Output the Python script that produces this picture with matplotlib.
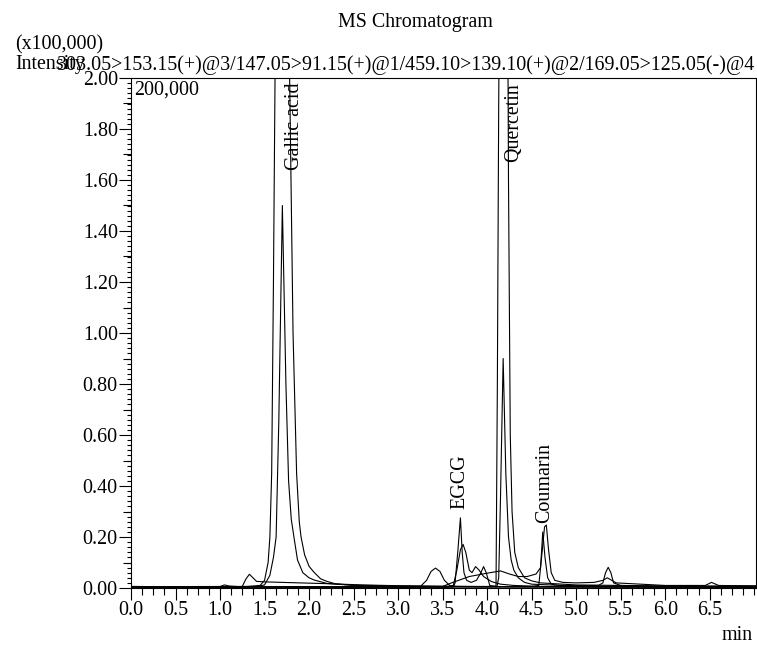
import matplotlib
matplotlib.use("Agg")
import matplotlib.pyplot as plt
from matplotlib.ticker import MultipleLocator, FormatStrFormatter

plt.rcParams["font.family"] = ["Liberation Serif", "DejaVu Serif"]
plt.rcParams["font.size"] = 14.4

# MRM traces (retention time in min, intensity in x100,000)
gallic_main_t = [0.00, 0.50, 1.00, 1.30, 1.45, 1.50, 1.54, 1.56, 1.58, 1.60, 1.62, 1.66, 1.70, 1.74,
                 1.78, 1.82, 1.86, 1.89, 1.91, 1.95, 2.00, 2.06, 2.13, 2.20, 2.30, 2.50, 3.00, 3.50,
                 4.00, 5.00, 6.00, 7.02]
gallic_main_i = [0.006, 0.005, 0.005, 0.006, 0.010, 0.030, 0.100, 0.200, 0.450, 1.200, 2.100, 3.300,
                 3.600, 3.300, 2.050, 1.000, 0.450, 0.260, 0.200, 0.130, 0.085, 0.060, 0.036, 0.026,
                 0.016, 0.011, 0.008, 0.006, 0.005, 0.005, 0.004, 0.004]

gallic_sub_t = [0.00, 1.00, 1.40, 1.50, 1.56, 1.60, 1.63, 1.66, 1.70, 1.74, 1.77, 1.80, 1.83, 1.87,
                1.93, 2.00, 2.06, 2.20, 2.50, 3.00, 5.00, 7.02]
gallic_sub_i = [0.003, 0.003, 0.005, 0.012, 0.050, 0.120, 0.200, 0.650, 1.500, 0.800, 0.420, 0.270,
                0.200, 0.110, 0.060, 0.040, 0.031, 0.018, 0.010, 0.006, 0.004, 0.004]

querc_main_t = [0.00, 0.50, 1.00, 1.20, 1.25, 1.29, 1.33, 1.37, 1.41, 1.50, 1.80, 2.20, 2.60, 3.00,
                3.50, 4.00, 4.10, 4.115, 4.13, 4.16, 4.19, 4.22, 4.24, 4.26, 4.28, 4.31, 4.35, 4.42,
                4.50, 4.60, 5.00, 6.00, 7.02]
querc_main_i = [0.005, 0.005, 0.004, 0.004, 0.006, 0.035, 0.054, 0.040, 0.026, 0.024, 0.021, 0.017,
                0.012, 0.009, 0.007, 0.006, 0.008, 0.800, 1.900, 3.500, 4.000, 3.200, 1.600, 0.600,
                0.300, 0.140, 0.080, 0.040, 0.028, 0.020, 0.012, 0.008, 0.008]

querc_sub_t = [0.00, 1.00, 2.00, 3.00, 4.00, 4.11, 4.13, 4.15, 4.18, 4.21, 4.24, 4.27, 4.30, 4.35,
               4.42, 4.50, 5.00, 6.00, 7.02]
querc_sub_i = [0.004, 0.004, 0.004, 0.004, 0.004, 0.005, 0.040, 0.350, 0.900, 0.450, 0.200, 0.110,
               0.070, 0.040, 0.022, 0.015, 0.008, 0.005, 0.004]

egcg_main_t = [0.00, 1.00, 2.00, 3.00, 3.50, 3.62, 3.64, 3.67, 3.70, 3.72, 3.74, 3.77, 3.82, 3.88,
               3.93, 3.96, 3.99, 4.03, 4.10, 4.50, 5.00, 6.00, 7.02]
egcg_main_i = [0.004, 0.004, 0.003, 0.003, 0.003, 0.004, 0.020, 0.140, 0.275, 0.140, 0.060, 0.030,
               0.022, 0.030, 0.060, 0.084, 0.060, 0.010, 0.005, 0.004, 0.004, 0.004, 0.004]

egcg_sub_t = [0.00, 1.00, 2.00, 3.00, 3.55, 3.62, 3.66, 3.70, 3.73, 3.76, 3.80, 3.83, 3.87, 3.91,
              3.96, 4.05, 4.15, 4.30, 4.60, 5.00, 6.00, 7.02]
egcg_sub_i = [0.005, 0.005, 0.004, 0.004, 0.004, 0.010, 0.070, 0.150, 0.171, 0.140, 0.070, 0.060,
              0.084, 0.070, 0.045, 0.025, 0.015, 0.010, 0.006, 0.005, 0.004, 0.004]

couma_main_t = [0.00, 0.50, 1.00, 2.00, 3.00, 3.25, 3.32, 3.37, 3.42, 3.47, 3.52, 3.58, 3.65, 4.00,
                4.50, 4.58, 4.60, 4.625, 4.65, 4.68, 4.72, 4.80, 5.00, 5.25, 5.30, 5.33, 5.36, 5.39,
                5.42, 5.50, 6.00, 6.50, 7.02]
couma_main_i = [0.006, 0.005, 0.005, 0.005, 0.004, 0.006, 0.030, 0.065, 0.078, 0.065, 0.030, 0.010,
                0.006, 0.005, 0.006, 0.010, 0.080, 0.220, 0.120, 0.040, 0.015, 0.010, 0.009, 0.010,
                0.020, 0.060, 0.081, 0.060, 0.020, 0.010, 0.007, 0.006, 0.006]

couma_sub_t = [0.00, 1.00, 1.05, 1.10, 1.20, 2.00, 3.00, 3.50, 3.60, 3.80, 4.00, 4.15, 4.25, 4.35,
               4.45, 4.55, 4.60, 4.62, 4.645, 4.665, 4.69, 4.72, 4.76, 4.85, 5.00, 5.20, 5.30, 5.35,
               5.45, 6.00, 6.45, 6.52, 6.60, 7.02]
couma_sub_i = [0.005, 0.006, 0.012, 0.008, 0.006, 0.005, 0.005, 0.006, 0.020, 0.045, 0.058, 0.067,
               0.055, 0.045, 0.045, 0.055, 0.080, 0.150, 0.240, 0.247, 0.150, 0.060, 0.030, 0.022,
               0.020, 0.022, 0.030, 0.040, 0.020, 0.010, 0.010, 0.022, 0.010, 0.008]

traces = [
    (gallic_main_t, gallic_main_i), (gallic_sub_t, gallic_sub_i),
    (querc_main_t, querc_main_i), (querc_sub_t, querc_sub_i),
    (egcg_main_t, egcg_main_i), (egcg_sub_t, egcg_sub_i),
    (couma_main_t, couma_main_i), (couma_sub_t, couma_sub_i),
]

# peak labels: name, retention time, label base height
peak_names = ["Gallic acid", "EGCG", "Quercetin", "Coumarin"]
peak_rt = [1.84, 3.69, 4.30, 4.65]
peak_label_y = [1.64, 0.31, 1.67, 0.255]

x_ticks = [0.0, 0.5, 1.0, 1.5, 2.0, 2.5, 3.0, 3.5, 4.0, 4.5, 5.0, 5.5, 6.0, 6.5]

W, H = 757, 646
fig = plt.figure(figsize=(W / 100, H / 100), dpi=100)
ax = fig.add_axes([131 / W, 58 / H, 625 / W, 510 / H])

for t, i in traces:
    ax.plot(t, i, color="black", lw=0.8)

ax.set_xlim(0, 7.02)
ax.set_ylim(0, 2.0)
ax.set_xticks(x_ticks)
ax.xaxis.set_major_formatter(FormatStrFormatter("%.1f"))
ax.xaxis.set_minor_locator(MultipleLocator(0.125))
ax.yaxis.set_major_locator(MultipleLocator(0.2))
ax.yaxis.set_major_formatter(FormatStrFormatter("%.2f"))
ax.yaxis.set_minor_locator(MultipleLocator(0.02))
ax.tick_params(which="major", direction="out", length=8.5, width=0.8, pad=1)
ax.tick_params(axis="x", which="minor", direction="out", length=5, width=0.8)
ax.tick_params(axis="y", which="minor", direction="out", length=3, width=0.8)
for sp in ax.spines.values():
    sp.set_linewidth(0.8)

# medium ticks every 0.1 on the intensity axis
ax2 = ax.twinx()
ax2.set_ylim(ax.get_ylim())
ax2.yaxis.tick_left()
ax2.set_yticks([0.1 + 0.2 * k for k in range(10)])
ax2.tick_params(axis="y", direction="out", length=6, width=0.8, labelleft=False, labelright=False)
for sp in ax2.spines.values():
    sp.set_visible(False)

for name, rt, y in zip(peak_names, peak_rt, peak_label_y):
    ax.text(rt, y, name, rotation=90, ha="center", va="bottom")

ax.text(0.005, 0.995, "200,000", transform=ax.transAxes, ha="left", va="top")

fig.text(415 / W, 1 - 22 / H, "MS Chromatogram", ha="center", va="center")
fig.text(15 / W, 1 - 45 / H, "(x100,000)", ha="left", va="center")
fig.text(15 / W, 1 - 65 / H, "Intensity", ha="left", va="center")
fig.text(755 / W, 1 - 65 / H,
         "303.05>153.15(+)@3/147.05>91.15(+)@1/459.10>139.10(+)@2/169.05>125.05(-)@4",
         ha="right", va="center")
fig.text(753 / W, 1 - 635 / H, "min", ha="right", va="center")

fig.savefig("out.png", dpi=100)
